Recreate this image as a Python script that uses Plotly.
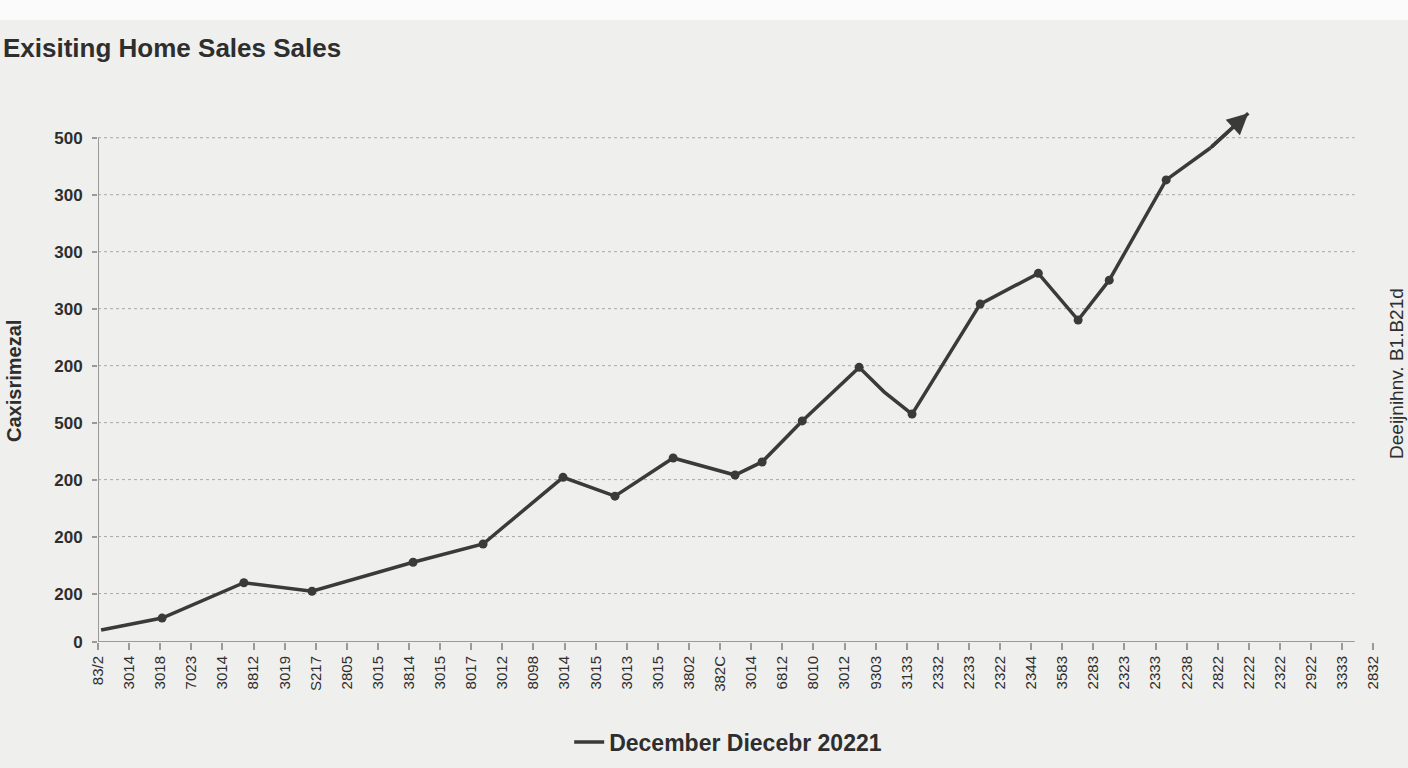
import plotly.graph_objects as go

# ---------------- data ----------------
title_text = "Exisiting Home Sales Sales"
series_name = "December Diecebr 20221"
y_axis_title = "Caxisrimezal"
right_text = "Deeijnihnv. B1.B21d"

x_labels = ["83/2", "3014", "3018", "7023", "3014", "8812", "3019", "S217", "2805", "3015",
            "3814", "3015", "8017", "3012", "8098", "3014", "3015", "3013", "3015", "3802",
            "382C", "3014", "6812", "8010", "3012", "9303", "3133", "2332", "2233", "2322",
            "2344", "3583", "2283", "2323", "2333", "2238", "2822", "2222", "2322", "2922",
            "3333", "2832"]

y_tickvals = [0, 0.85, 1.85, 2.85, 3.85, 4.85, 5.85, 6.85, 7.85, 8.85]
y_ticktext = ["0", "200", "200", "200", "500", "200", "300", "300", "300", "500"]

# series (position along category axis, value); last point is the arrow tip
series_x = [0.1, 2.06, 4.69, 6.88, 10.13, 12.38, 14.95, 16.62, 18.49, 20.48, 21.35,
            22.64, 24.47, 25.27, 26.17, 28.36, 30.23, 31.51, 32.51, 34.34, 35.76, 36.98]
series_y = [0.21, 0.42, 1.04, 0.89, 1.40, 1.72, 2.89, 2.56, 3.23, 2.93, 3.16,
            3.88, 4.82, 4.39, 4.00, 5.93, 6.47, 5.65, 6.35, 8.11, 8.67, 9.28]
marked = [False, True, True, True, True, True, True, True, True, True, True,
          True, True, False, True, True, True, True, True, True, False, False]

axis_end_x = 40.4

# ---------------- styles ----------------
FONT = "Liberation Sans, Arial, sans-serif"
DARK = "#3a3a3a"
TXT = "#2e2e2e"
BG = "#efefed"
GRID = "#a8a8a8"
AXIS = "#9a9a9a"

fig = go.Figure()

fig.add_trace(go.Scatter(
    x=series_x[:-1], y=series_y[:-1], mode="lines",
    line=dict(color=DARK, width=3.5),
    name="<b>" + series_name + "</b>", showlegend=True, hoverinfo="skip",
))
fig.add_trace(go.Scatter(
    x=series_x[-2:], y=series_y[-2:], mode="lines",
    line=dict(color=DARK, width=3.5), showlegend=False, hoverinfo="skip",
))
mx = [x for x, m in zip(series_x, marked) if m]
my = [y for y, m in zip(series_y, marked) if m]
fig.add_trace(go.Scatter(
    x=mx, y=my, mode="markers",
    marker=dict(color=DARK, size=9),
    showlegend=False, hoverinfo="skip",
))

shapes = []
for v in y_tickvals[1:]:
    shapes.append(dict(type="line", xref="x", yref="y", x0=0, x1=axis_end_x, y0=v, y1=v,
                       line=dict(color=GRID, width=1, dash="dot"), layer="below"))
shapes.append(dict(type="line", xref="x", yref="y", x0=0, x1=axis_end_x, y0=0, y1=0,
                   line=dict(color=AXIS, width=2), layer="above"))
shapes.append(dict(type="line", xref="x", yref="y", x0=0, x1=0, y0=0, y1=y_tickvals[-1],
                   line=dict(color=AXIS, width=2), layer="above"))
shapes.append(dict(type="rect", xref="paper", yref="paper", x0=-0.2, x1=1.2,
                   y0=1.137, y1=1.25, fillcolor="#fbfbfb", line=dict(width=0), layer="below"))

annotations = [
    dict(text="<b>" + title_text + "</b>", xref="paper", yref="paper", x=-0.0757, y=1.086,
         xanchor="left", yanchor="middle", showarrow=False, xshift=1,
         font=dict(family=FONT, size=26, color=TXT)),
    dict(text="<b>" + y_axis_title + "</b>", xref="paper", yref="paper", x=-0.065, y=0.477,
         xanchor="center", yanchor="middle", textangle=-90, showarrow=False,
         font=dict(family=FONT, size=20, color=TXT)),
    dict(text=right_text, xref="paper", yref="paper", x=1.0, y=0.49,
         xanchor="center", yanchor="middle", textangle=-90, showarrow=False,
         xshift=5, font=dict(family=FONT, size=19, color=TXT)),
    dict(text="", x=series_x[-1], y=series_y[-1], ax=series_x[-2], ay=series_y[-2],
         xref="x", yref="y", axref="x", ayref="y", showarrow=True,
         arrowhead=2, arrowsize=1.2, arrowwidth=3.5, arrowcolor=DARK, standoff=0),
]

fig.update_layout(
    width=1408, height=768,
    margin=dict(l=98, r=16, t=95, b=126, autoexpand=False),
    paper_bgcolor=BG, plot_bgcolor=BG,
    font=dict(family=FONT, color=TXT),
    shapes=shapes, annotations=annotations,
    showlegend=True,
    legend=dict(orientation="h", x=0.487, y=-0.183, xanchor="center", yanchor="middle",
                bgcolor="rgba(0,0,0,0)", font=dict(family=FONT, size=23, color=TXT),
                itemwidth=30),
    xaxis=dict(
        range=[0, 41.6], tickmode="array", tickvals=list(range(len(x_labels))),
        ticktext=x_labels, tickangle=-90, showgrid=False, zeroline=False, showline=False,
        automargin=False,
        ticks="outside", ticklen=7, tickcolor=AXIS, tickwidth=1.5,
        tickfont=dict(family=FONT, size=15, color=TXT),
    ),
    yaxis=dict(
        range=[0, 9.6], tickmode="array", tickvals=y_tickvals, ticktext=y_ticktext,
        showgrid=False, zeroline=False, showline=False, automargin=False,
        ticks="outside", ticklen=5, tickcolor=AXIS, tickwidth=1.5, ticklabelstandoff=6,
        tickfont=dict(family=FONT, size=17, color=TXT, weight="bold"),
    ),
)

fig.write_html("out.html", config={"displayModeBar": False},
               post_script="document.body.style.margin='0';document.body.style.overflow='hidden';")
